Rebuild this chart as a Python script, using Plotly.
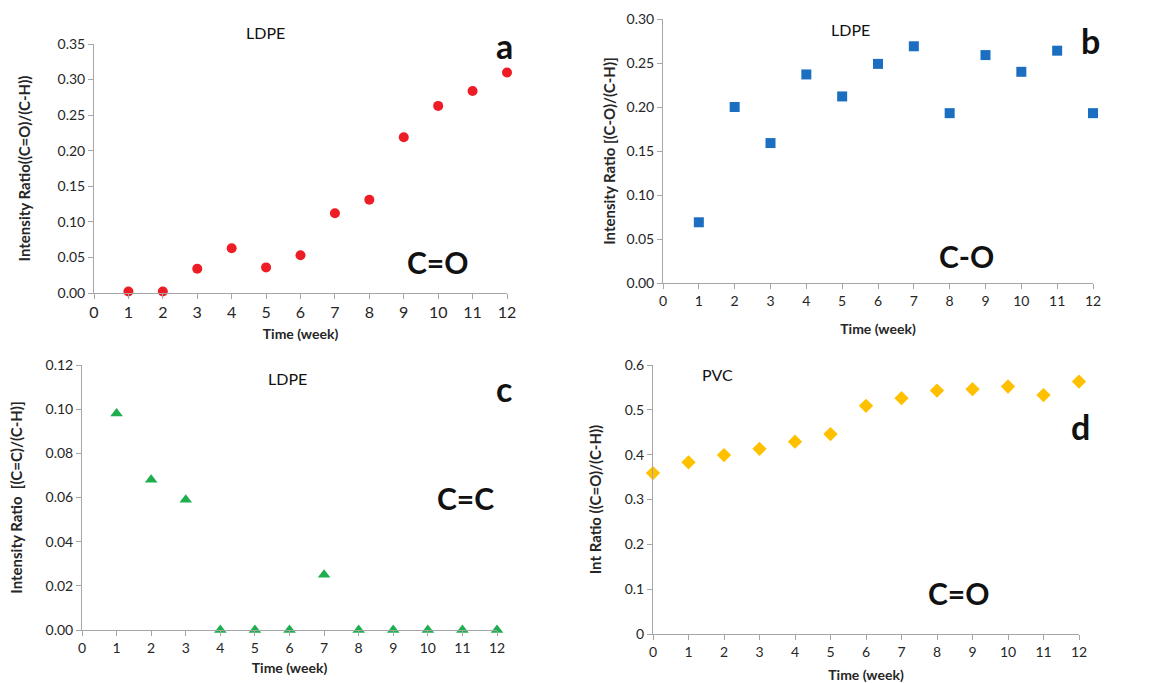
import plotly.graph_objects as go

W, H = 1151, 683

# ---- data ----
weeks_a = [1, 2, 3, 4, 5, 6, 7, 8, 9, 10, 11, 12]
ratio_a = [0.002, 0.002, 0.034, 0.063, 0.036, 0.053, 0.112, 0.131, 0.219, 0.263, 0.284, 0.310]

weeks_b = [1, 2, 3, 4, 5, 6, 7, 8, 9, 10, 11, 12]
ratio_b = [0.069, 0.200, 0.159, 0.237, 0.212, 0.249, 0.269, 0.193, 0.259, 0.240, 0.264, 0.193]

weeks_c = [1, 2, 3, 4, 5, 6, 7, 8, 9, 10, 11, 12]
ratio_c = [0.098, 0.068, 0.059, 0.0, 0.0, 0.0, 0.025, 0.0, 0.0, 0.0, 0.0, 0.0]

weeks_d = [0, 1, 2, 3, 4, 5, 6, 7, 8, 9, 10, 11, 12]
ratio_d = [0.359, 0.383, 0.399, 0.413, 0.429, 0.446, 0.509, 0.526, 0.543, 0.546, 0.552, 0.533, 0.563]

FONT = "Lato"
AXC = "#a6a6a6"
TXT = "#262626"

# panel boxes in pixels: (left, right, top, bottom)
panels = {
    "a": (94, 507, 44, 293),
    "b": (663, 1093, 19, 283),
    "c": (82, 497, 365, 630),
    "d": (653, 1079, 365, 634),
}

def px(x):
    return x / W

def py(y):
    return 1 - y / H

fig = go.Figure()

# key, axis suffix, x, y, symbol, colour, size, ymax, dtick, format, ytitle,
# x tick font, y tick font, x title standoff, y title standoff
specs = [
    ("a", "", weeks_a, ratio_a, "circle", "#ee1c25", 10, 0.35, 0.05, ".2f",
     "Intensity Ratio((C=O)/(C-H))", 16, 14, 8, 23),
    ("b", "2", weeks_b, ratio_b, "square", "#1c6fc0", 10, 0.30, 0.05, ".2f",
     "Intensity Ratio [(C-O)/(C-H)]", 14, 14, 16, 7),
    ("c", "3", weeks_c, ratio_c, "triangle-up", "#1fae4e", 11, 0.12, 0.02, ".2f",
     "Intensity Ratio  [(C=C)/(C-H)]", 14, 14, 8, 19),
    ("d", "4", weeks_d, ratio_d, "diamond", "#ffc000", 11, 0.6, 0.1, "",
     "Int Ratio ((C=O)/(C-H))", 14, 14, 11, 19),
]

for key, sfx, xs, ys, sym, col, msz, ymax, dt, fmt, ytitle, xfs, yfs, xst, yst in specs:
    l, r, t, b = panels[key]
    fig.add_trace(go.Scatter(
        x=xs, y=ys, mode="markers",
        marker=dict(symbol=sym, color=col, size=msz, line=dict(width=0)),
        xaxis="x" + sfx, yaxis="y" + sfx, cliponaxis=False, showlegend=False,
        hoverinfo="x+y",
    ))
    xa = dict(
        domain=[px(l), px(r)], range=[0, 12], dtick=1, tick0=0,
        showline=True, linecolor=AXC, linewidth=1, showgrid=False, zeroline=False,
        ticks="outside", ticklen=5, tickcolor=AXC,
        tickfont=dict(family=FONT, size=xfs, color=TXT),
        anchor="y" + sfx, automargin=False,
        title=dict(text="<b>Time (week)</b>", font=dict(family=FONT, size=14, color=TXT), standoff=xst),
    )
    ya = dict(
        domain=[py(b), py(t)], range=[0, ymax], dtick=dt, tick0=0,
        showline=True, linecolor=AXC, linewidth=1, showgrid=False, zeroline=False,
        ticks="outside", ticklen=5, tickcolor=AXC,
        tickfont=dict(family=FONT, size=yfs, color=TXT),
        tickformat=fmt,
        anchor="x" + sfx, automargin=False,
        title=dict(text="<b>" + ytitle + "</b>", font=dict(family=FONT, size=15, color=TXT), standoff=yst),
    )
    fig.layout["xaxis" + sfx] = xa
    fig.layout["yaxis" + sfx] = ya

def ann(text, x, y, size, bold=False):
    fig.add_annotation(
        text=("<b>%s</b>" % text) if bold else text,
        x=px(x), y=py(y), xref="paper", yref="paper",
        xanchor="center", yanchor="middle", showarrow=False,
        font=dict(family=FONT, size=size, color="#111111"),
    )

# panel titles
ann("LDPE", 265, 32, 16)
ann("LDPE", 850, 29, 16)
ann("LDPE", 287, 378, 16)
ann("PVC", 717, 374, 16)
# panel letters
ann("a", 504, 45, 34, True)
ann("b", 1090, 40, 34, True)
ann("c", 504, 388, 34, True)
ann("d", 1080, 426, 34, True)
# bond labels
ann("C=O", 438, 262, 30, True)
ann("C-O", 966, 256, 30, True)
ann("C=C", 465, 498, 30, True)
ann("C=O", 959, 593, 30, True)

fig.update_layout(
    width=W, height=H,
    margin=dict(l=0, r=0, t=0, b=0),
    paper_bgcolor="white", plot_bgcolor="white",
    font=dict(family=FONT, color=TXT),
)

fig.write_html(
    "out.html",
    config={"displayModeBar": False},
    post_script="document.body.style.margin='0';document.body.style.overflow='hidden';",
)
